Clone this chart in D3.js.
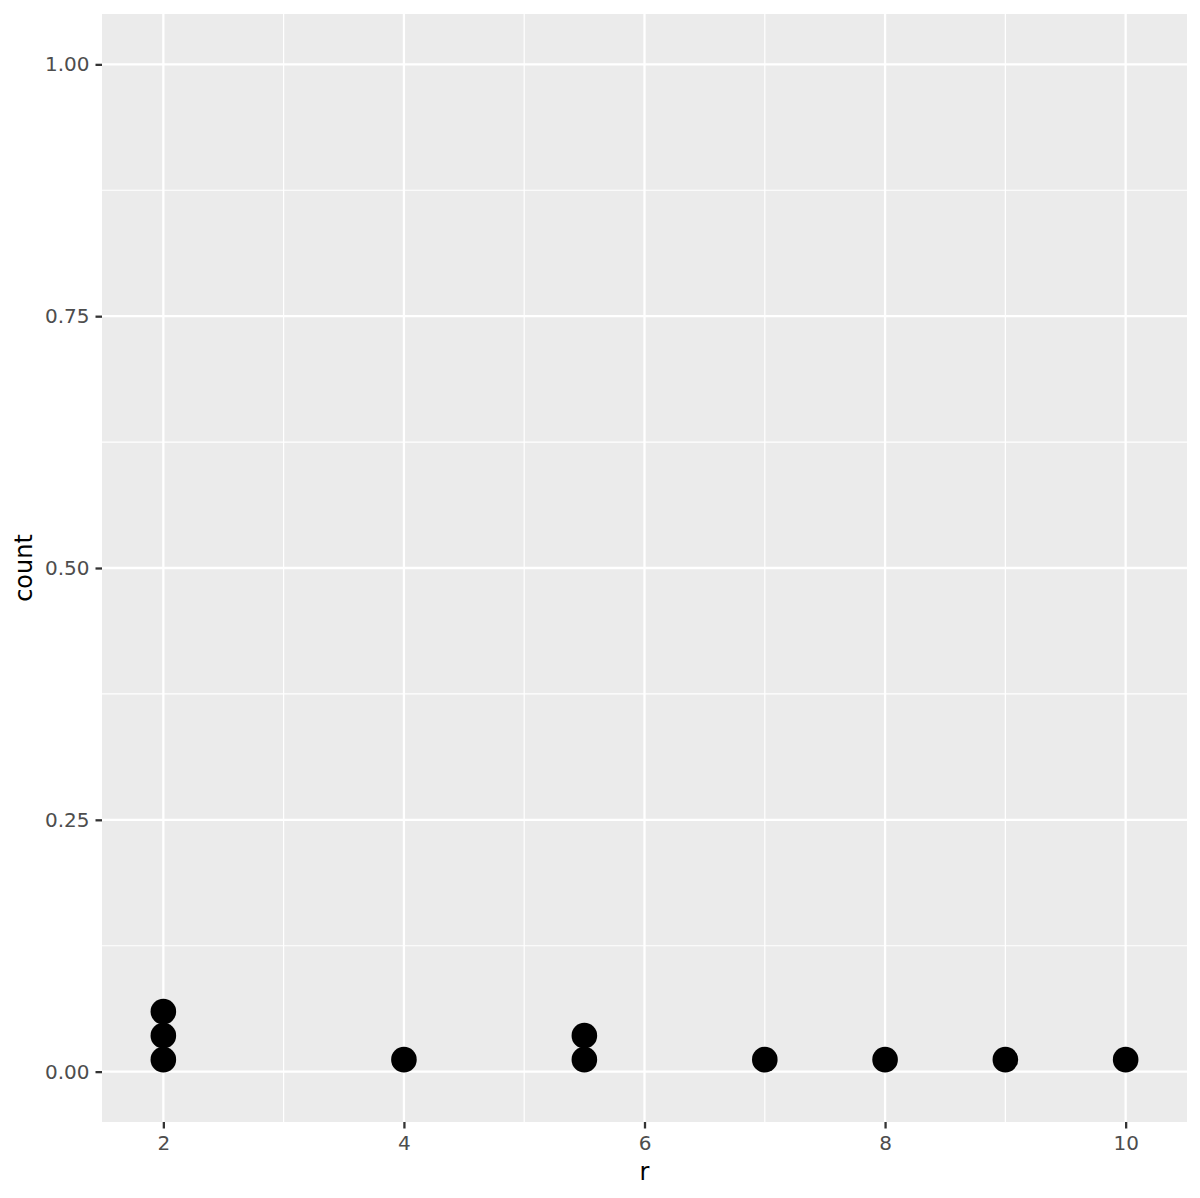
<!DOCTYPE html>
<html>
<head>
<meta charset="utf-8">
<script src="https://cdn.jsdelivr.net/npm/d3@7"></script>
<style>
  body { margin: 0; background: #fff; }
  svg { display: block; font-family: "DejaVu Sans", sans-serif; }
</style>
</head>
<body>
<div id="chart"></div>
<script>
// observed r values (one dot each)
var rValues = [2, 2, 2, 4, 5.5, 5.5, 7, 8, 9, 10];
var xTicks = [2, 4, 6, 8, 10];
var xMinor = [3, 5, 7, 9];
var yTicks = [0, 0.25, 0.5, 0.75, 1];
var yMinor = [0.125, 0.375, 0.625, 0.875];

var width = 1200, height = 1198;
var margin = {top: 14, right: 13, bottom: 76, left: 102};
var pw = width - margin.left - margin.right,
    ph = height - margin.top - margin.bottom;

var svg = d3.select("#chart").append("svg")
    .attr("width", width)
    .attr("height", height);

var g = svg.append("g")
    .attr("transform", "translate(" + margin.left + "," + margin.top + ")");

var x = d3.scaleLinear().domain([1.49, 10.51]).range([0, pw]);
var y = d3.scaleLinear().domain([-0.05, 1.05]).range([ph, 0]);

///////// panel and grid

g.append("rect")
    .attr("width", pw)
    .attr("height", ph)
    .attr("fill", "#EBEBEB");

g.selectAll(".xminor").data(xMinor).enter().append("line")
    .attr("x1", d => x(d)).attr("x2", d => x(d))
    .attr("y1", 0).attr("y2", ph)
    .attr("stroke", "#fff").attr("stroke-width", 1.2);

g.selectAll(".yminor").data(yMinor).enter().append("line")
    .attr("y1", d => y(d)).attr("y2", d => y(d))
    .attr("x1", 0).attr("x2", pw)
    .attr("stroke", "#fff").attr("stroke-width", 1.2);

g.selectAll(".xmajor").data(xTicks).enter().append("line")
    .attr("x1", d => x(d)).attr("x2", d => x(d))
    .attr("y1", 0).attr("y2", ph)
    .attr("stroke", "#fff").attr("stroke-width", 2.3);

g.selectAll(".ymajor").data(yTicks).enter().append("line")
    .attr("y1", d => y(d)).attr("y2", d => y(d))
    .attr("x1", 0).attr("x2", pw)
    .attr("stroke", "#fff").attr("stroke-width", 2.3);

///////// axes

var xAxis = d3.axisBottom(x).tickValues(xTicks).tickSize(6.5).tickPadding(7.5)
    .tickFormat(d3.format("d"));
var yAxis = d3.axisLeft(y).tickValues(yTicks).tickSize(6.5).tickPadding(6)
    .tickFormat(d3.format(".2f"));

var gX = g.append("g")
    .attr("transform", "translate(0," + ph + ")")
    .call(xAxis);
var gY = g.append("g").call(yAxis);

[gX, gY].forEach(function(a) {
  a.attr("font-family", "DejaVu Sans, sans-serif").attr("font-size", 20);
  a.select(".domain").remove();
  a.selectAll(".tick line").attr("stroke", "#333333").attr("stroke-width", 2.3);
  a.selectAll(".tick text").attr("fill", "#4D4D4D");
});

g.append("text")
    .attr("x", pw / 2)
    .attr("y", ph + 58)
    .attr("text-anchor", "middle")
    .style("font-size", "24px")
    .attr("fill", "#000")
    .text("r");

g.append("text")
    .attr("transform", "translate(" + (-70) + "," + (ph / 2) + ") rotate(-90)")
    .attr("text-anchor", "middle")
    .style("font-size", "24px")
    .attr("fill", "#000")
    .text("count");

///////// dots, stacked per value

var dotSize = 24;  // px between stacked centres
var seen = {};
var dots = rValues.map(function(v) {
  var k = seen[v] || 0;
  seen[v] = k + 1;
  return {r: v, stack: k};
});

g.selectAll(".dot").data(dots).enter().append("circle")
    .attr("class", "dot")
    .attr("cx", d => x(d.r))
    .attr("cy", d => y(0) - (d.stack + 0.5) * dotSize)
    .attr("r", 12.8)
    .attr("fill", "#000");
</script>
</body>
</html>
